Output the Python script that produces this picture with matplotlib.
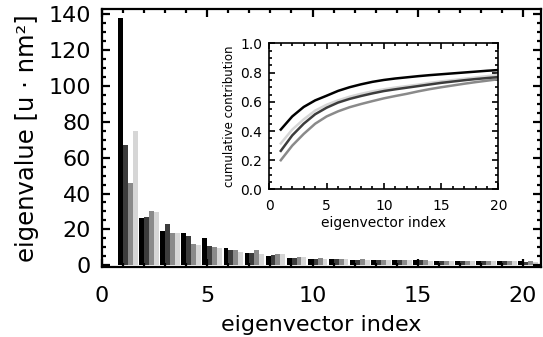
import matplotlib
matplotlib.use('Agg')
import matplotlib.pyplot as plt
import numpy as np
from matplotlib.ticker import MultipleLocator

# eigenvector index 1..20
index = list(range(1, 21))

# eigenvalues for four data sets (black, dark gray, gray, light gray)
eig_black = [138, 26.5, 19.3, 18, 15, 9.5, 6.5, 5, 4.2, 3.5,
             3.3, 3.0, 2.9, 2.7, 2.6, 2.5, 2.4, 2.3, 2.2, 2.1]
eig_dark = [67, 27, 23, 16, 10.5, 8.5, 6.5, 5.5, 4.2, 3.5,
            3.2, 3.0, 2.8, 2.7, 2.6, 2.4, 2.3, 2.2, 2.1, 2.0]
eig_gray = [46, 30.5, 18, 12, 10, 8.5, 8.5, 6, 4.7, 3.8,
            3.5, 3.2, 3.0, 2.8, 2.7, 2.5, 2.4, 2.3, 2.2, 2.1]
eig_light = [75, 29.5, 18, 11, 9.5, 7.5, 6, 6, 4.5, 3.6,
             3.3, 3.0, 2.8, 2.6, 2.5, 2.4, 2.3, 2.2, 2.1, 2.0]

# cumulative contribution (inset)
cum_black = [0.41, 0.50, 0.565, 0.61, 0.642, 0.675, 0.70, 0.72, 0.737, 0.75,
             0.76, 0.768, 0.776, 0.783, 0.789, 0.795, 0.801, 0.807, 0.813, 0.818]
cum_dark = [0.264, 0.37, 0.45, 0.515, 0.56, 0.595, 0.62, 0.64, 0.658, 0.674,
            0.686, 0.697, 0.708, 0.719, 0.73, 0.739, 0.748, 0.756, 0.763, 0.77]
cum_gray = [0.20, 0.30, 0.38, 0.45, 0.50, 0.535, 0.563, 0.585, 0.605, 0.624,
            0.64, 0.655, 0.672, 0.687, 0.70, 0.712, 0.724, 0.735, 0.745, 0.755]
cum_light = [0.315, 0.41, 0.48, 0.54, 0.58, 0.61, 0.635, 0.655, 0.672, 0.686,
             0.698, 0.708, 0.718, 0.73, 0.74, 0.749, 0.758, 0.767, 0.776, 0.785]

colors = ['#000000', '#3c3c3c', '#8a8a8a', '#d6d6d6']


def idl_style(ax, lw, major_len, minor_len):
    for s in ax.spines.values():
        s.set_linewidth(lw)
    ax.tick_params(which='both', direction='in', top=True, right=True, width=lw)
    ax.tick_params(which='major', length=major_len)
    ax.tick_params(which='minor', length=minor_len)


fig = plt.figure(figsize=(5.43, 3.37), dpi=100)
ax = fig.add_axes([0.188, 0.208, 0.808, 0.765])

w = 0.235
x = np.array(index)
for k, vals in enumerate([eig_black, eig_dark, eig_gray, eig_light]):
    ax.bar(x - 0.23 + k * w, vals, width=w, align='edge', color=colors[k], linewidth=0)

ax.set_xlim(0, 20.85)
ax.set_ylim(-1, 143)
ax.xaxis.set_major_locator(MultipleLocator(5))
ax.xaxis.set_minor_locator(MultipleLocator(1))
ax.yaxis.set_major_locator(MultipleLocator(20))
ax.yaxis.set_minor_locator(MultipleLocator(5))
idl_style(ax, 1.6, 6, 3)
ax.tick_params(labelsize=16)
ax.tick_params(axis='x', pad=14)
ax.tick_params(axis='y', pad=8)
ax.set_xlabel('eigenvector index', fontsize=16, labelpad=6)
ax.set_ylabel('eigenvalue [u · nm²]', fontsize=17.5, labelpad=7)

# inset
ins = fig.add_axes([0.496, 0.438, 0.422, 0.433])
for k, vals in enumerate([cum_gray, cum_light, cum_dark, cum_black]):
    c = [colors[2], colors[3], colors[1], colors[0]][k]
    ins.plot(index, vals, color=c, linewidth=1.8)
ins.set_xlim(0, 20)
ins.set_ylim(0, 1)
ins.xaxis.set_major_locator(MultipleLocator(5))
ins.xaxis.set_minor_locator(MultipleLocator(1))
ins.yaxis.set_major_locator(MultipleLocator(0.2))
ins.yaxis.set_minor_locator(MultipleLocator(0.05))
ins.yaxis.set_major_formatter(matplotlib.ticker.FormatStrFormatter('%.1f'))
idl_style(ins, 1.2, 4, 2)
ins.tick_params(labelsize=10)
ins.tick_params(axis='x', pad=7)
ins.tick_params(axis='y', pad=5)
ins.set_xlabel('eigenvector index', fontsize=10, labelpad=2)
ins.set_ylabel('cumulative contribution', fontsize=8.5, labelpad=3)

fig.savefig('out.png', dpi=100)
